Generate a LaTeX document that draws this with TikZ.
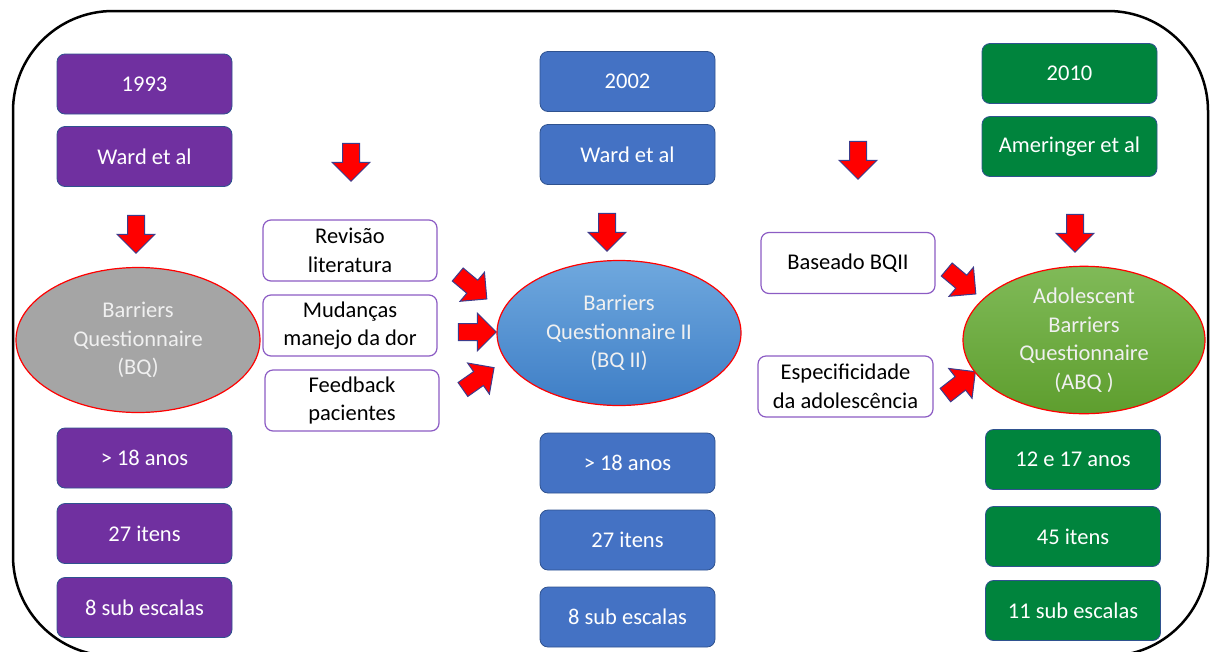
\documentclass[tikz,border=0pt]{standalone}
\usepackage{fontspec}
\setmainfont{Carlito}
\usetikzlibrary{shapes.geometric,shapes.arrows}

\definecolor{bqpurple}{RGB}{112,48,160}
\definecolor{bqblue}{RGB}{68,114,196}
\definecolor{bqgreen}{RGB}{0,132,61}
\definecolor{boxedge}{RGB}{47,82,143}
\definecolor{noteedge}{RGB}{140,92,196}
\definecolor{arrowedge}{RGB}{60,60,140}
\definecolor{ovaltext}{RGB}{240,240,240}

\begin{document}
\begin{tikzpicture}[x=1pt,y=-1pt,
  txt/.style={font=\fontsize{22.5}{28.5}\selectfont, align=center},
  infobox/.style={txt, rectangle, rounded corners=8pt, draw=boxedge, line width=0.8pt,
    text=white, minimum width=175pt, minimum height=60pt, inner sep=2pt},
  purplebox/.style={infobox, fill=bqpurple},
  bluebox/.style={infobox, fill=bqblue},
  greenbox/.style={infobox, fill=bqgreen},
  notebox/.style={txt, rectangle, rounded corners=8pt, draw=noteedge, line width=1.2pt,
    fill=white, text=black, minimum width=174pt, minimum height=61pt, inner sep=1pt},
  oval/.style={txt, ellipse, draw=red, line width=1.2pt, text=ovaltext,
    minimum width=244pt, minimum height=145pt, inner sep=0pt},
  blockarrow/.style={single arrow, draw=arrowedge, fill=red, line width=1pt,
    minimum height=38pt, inner xsep=0pt, inner ysep=8pt,
    single arrow head extend=10.5pt, single arrow head indent=0pt}
]
\useasboundingbox (0,0) rectangle (1214,651);

% outer frame, its lower edge runs past the page
\begin{scope}
  \clip (0,0) rectangle (1214,651);
  \draw[line width=2.5pt, rounded corners=100pt] (13,11) rectangle (1208,656);
\end{scope}

% ---- 1993 column ----
\node[purplebox] (y1993) at (144.5,84) {1993};
\node[purplebox] (ward1) at (144.5,156.5) {Ward et al};
\node[blockarrow, rotate=-90] (dn1) at (136,230) {};
\node[oval, fill={rgb,255:red,165;green,165;blue,165}] (bq) at (138,340)
  {Barriers\\Questionnaire\\(BQ)};
\node[purplebox] (age1) at (144.5,458) {> 18 anos};
\node[purplebox] (items1) at (144.5,533.5) {27 itens};
\node[purplebox] (scales1) at (144.5,607.5) {8 sub escalas};

% ---- reasons for the revision ----
\node[blockarrow, rotate=-90] (dnmid1) at (351,158) {};
\node[notebox] (rev) at (350,250.5) {Revisão\\literatura};
\node[notebox] (mud) at (350,325.5) {Mudanças\\manejo da dor};
\node[notebox] (feed) at (352,400.5) {Feedback\\pacientes};
\node[blockarrow, rotate=-40] (ar1) at (469,284) {};
\node[blockarrow] (ar2) at (473,332) {};
\node[blockarrow, rotate=35] (ar3) at (475,381) {};

% ---- 2002 column ----
\node[bluebox] (y2002) at (627.5,81.5) {2002};
\node[bluebox] (ward2) at (627.5,154.5) {Ward et al};
\node[blockarrow, rotate=-90] (dn2) at (607,228) {};
\node[oval, top color={rgb,255:red,111;green,168;blue,222},
  bottom color={rgb,255:red,62;green,126;blue,198}] (bq2) at (619,333)
  {Barriers\\Questionnaire II\\(BQ II)};
\node[bluebox] (age2) at (627.5,463) {> 18 anos};
\node[bluebox] (items2) at (627.5,540) {27 itens};
\node[bluebox] (scales2) at (627.5,617) {8 sub escalas};

% ---- reasons for the adolescent version ----
\node[blockarrow, rotate=-90] (dnmid2) at (858,156) {};
\node[notebox] (base) at (848,263) {Baseado BQII};
\node[notebox, minimum width=175pt] (espec) at (845.5,386.5) {Especificidade\\da adolescência};
\node[blockarrow, rotate=-40] (ar4) at (958,279) {};
\node[blockarrow, rotate=38] (ar5) at (957,386) {};

% ---- 2010 column ----
\node[greenbox] (y2010) at (1069.5,73.5) {2010};
\node[greenbox] (amer) at (1069.5,146.5) {Ameringer et al};
\node[blockarrow, rotate=-90] (dn3) at (1075,229) {};
\node[oval, minimum width=242pt, top color={rgb,255:red,128;green,186;blue,88},
  bottom color={rgb,255:red,94;green,158;blue,46}] (abq) at (1084,340)
  {Adolescent\\Barriers\\Questionnaire\\(ABQ )};
\node[greenbox] (age3) at (1073,459.5) {12 e 17 anos};
\node[greenbox] (items3) at (1073,536.5) {45 itens};
\node[greenbox] (scales3) at (1073,610.5) {11 sub escalas};

\end{tikzpicture}
\end{document}
